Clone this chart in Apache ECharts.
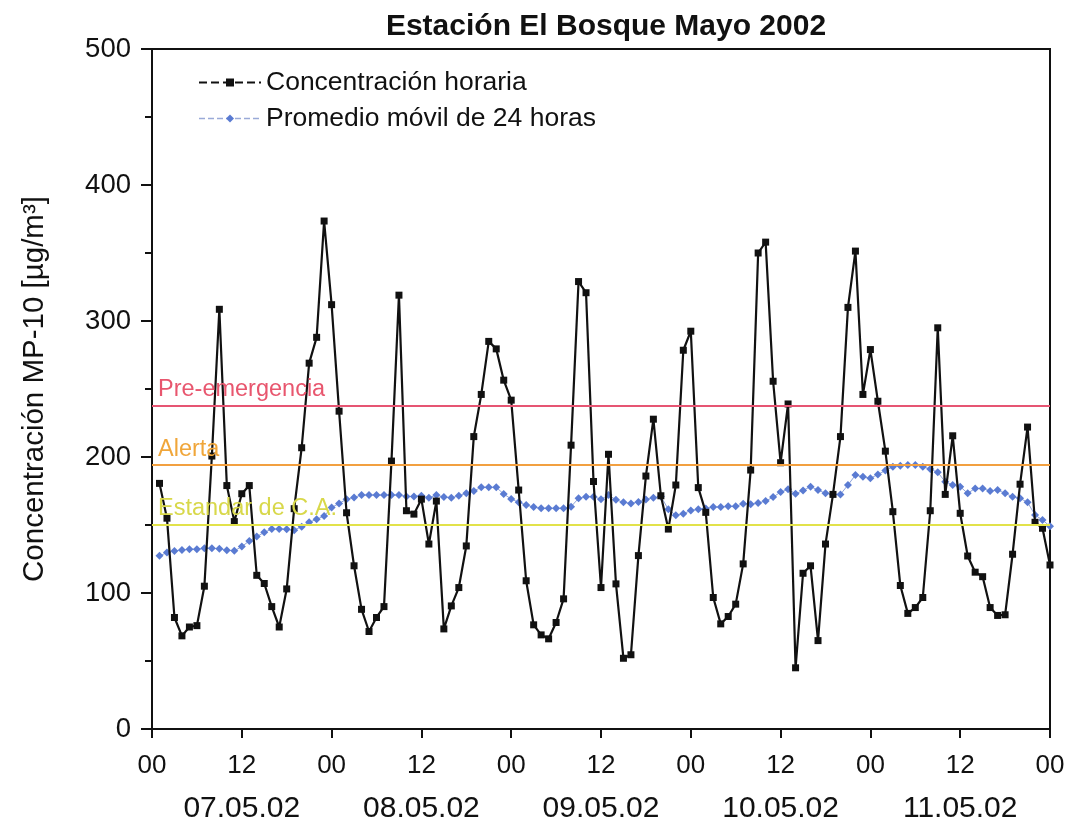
<!DOCTYPE html>
<html><head><meta charset="utf-8">
<script src="https://cdn.jsdelivr.net/npm/echarts@6/dist/echarts.min.js"></script>
<style>html,body{margin:0;padding:0;background:#fff}#c{width:1070px;height:824px}</style>
</head><body><div id="c"></div>
<script>
const titleText = 'Estación El Bosque Mayo 2002';
const yAxisName = 'Concentración MP-10 [µg/m³]';
const dayLabels = ['07.05.02','08.05.02','09.05.02','10.05.02','11.05.02'];
const hourLabels = ['00','12'];
const seriesNames = ['Concentración horaria','Promedio móvil de 24 horas'];
// hourly values, hour 1..120
const hourly = [
 180.6,155,82,68.5,75,76,105,200.7,308.6,179,152.5,173,
 179,113,107,90,75,103,162,206.8,269,288,373.5,312,
 233.7,159,120,88,71.7,82,90,197,319,160.5,158,169,
 136,167.6,73.6,90.5,104,134.6,215,246,285,279.5,256.5,241.8,
 175.7,109,76.6,69.2,66.3,78.3,95.7,208.7,329,320.8,182,104,
 202,106.7,52,54.6,127.5,186,227.8,171.5,147,179.4,278.5,292.5,
 177.5,159.3,96.7,77.3,82.7,91.8,121.4,190.4,350,358,255.7,195.8,
 239,45,114.5,120,65,136,172.5,215,310,351.4,246,279,
 241,204.3,159.8,105.5,85,89.3,96.7,160.5,295,172.5,215.6,158.6,
 127.2,115.3,112,89.3,83.5,84,128.5,180,222,152,147.6,120.6
];
const movingAvg = [
 127.3,129.7,130.9,131.7,132.2,132.2,132.9,132.9,132.5,131.5,131,134.1,
 138.3,141.5,144.6,147,147.1,146.8,146.2,148.8,152,154.2,156.6,162.8,
 165.9,168.9,170.3,172,172,172,172,172,172,171,171,171.5,
 170,172,170.5,170,171.5,173.3,175,177.7,177.7,177.7,172.8,169.1,
 166.7,164.7,163.2,162.3,162.3,162.3,162.3,163.5,169.6,170.8,170.8,169,
 172,168.5,166.7,165.9,167,168.8,170,171,161.5,157.1,158.3,160.7,
 161.5,162.2,163.2,163.2,163.7,163.7,165.7,165.2,166.2,167.6,170.5,174.2,
 176.2,173,175.4,178.2,175.7,173.3,172.5,172.5,179.4,186.7,185.5,184.3,
 187.2,190,192.8,193.6,194.1,194.1,192.8,191.1,188.7,181.8,179.4,178.2,
 173.3,176.9,176.9,175,175.7,173.3,170.8,169.6,166.7,157.3,153.7,149
];
const thresholdNames = ['Pre-emergencia','Alerta','Estandar de C.A.'];
const thresholdValues = [238, 194, 150];

const refLineColors = ['#e65573','#f2a040','#e2e24a'];
const refTextColors = ['#e8566e','#f0a63a','#d8d84a'];

const chart = echarts.init(document.getElementById('c'), null, {renderer:'canvas'});
const FONT = 'Liberation Sans, Arial, sans-serif';
const option = {
  backgroundColor:'#fff',
  animation:false,
  title:{text:titleText,left:601,top:7,textAlign:'center',
    textStyle:{fontFamily:FONT,fontSize:30,fontWeight:'bold',color:'#111'}},
  legend:{
    orient:'vertical',left:193,top:64,itemGap:9,itemWidth:62,itemHeight:10,
    textStyle:{fontFamily:FONT,fontSize:26.5,color:'#111'},
    data:[
      {name:seriesNames[0],lineStyle:{type:'dashed',dashOffset:0,width:2}},
      {name:seriesNames[1],lineStyle:{type:'dashed',width:1.5,color:'#9aaad8'}}
    ]
  },
  grid:{left:152,right:20,top:49,bottom:93,show:true,borderColor:'#111',borderWidth:2,backgroundColor:'transparent'},
  xAxis:{
    type:'value',min:0,max:120,interval:12,
    axisLine:{lineStyle:{color:'#111',width:2}},
    axisTick:{inside:false,length:9,lineStyle:{color:'#111',width:2}},
    splitLine:{show:false},
    axisLabel:{
      margin:22,showMinLabel:true,showMaxLabel:true,hideOverlap:false,
      formatter:function(v){
        if (v % 24 === 0) return '{t|' + hourLabels[0] + '}';
        const d = dayLabels[Math.round((v-12)/24)];
        return '{t|' + hourLabels[1] + '}\n{d|' + d + '}';
      },
      rich:{
        t:{fontFamily:FONT,fontSize:26,color:'#111',lineHeight:30},
        d:{fontFamily:FONT,fontSize:30,color:'#111',lineHeight:56}
      }
    }
  },
  yAxis:{
    type:'value',min:0,max:500,interval:100,
    name:yAxisName,nameLocation:'middle',nameGap:102,nameRotate:90,
    nameTextStyle:{fontFamily:FONT,fontSize:29.5,color:'#111'},
    axisLine:{show:true,lineStyle:{color:'#111',width:2}},
    axisTick:{show:true,inside:false,length:11,lineStyle:{color:'#111',width:2}},
    minorTick:{show:true,splitNumber:2,length:7,lineStyle:{color:'#111',width:2}},
    splitLine:{show:false},
    axisLabel:{margin:21,fontFamily:FONT,fontSize:27.5,color:'#111'}
  },
  series:[
    {
      name:'ref',type:'line',data:[],z:1,silent:true,
      markLine:{
        silent:true,symbol:['none','none'],animation:false,
        data:thresholdValues.map((v,i)=>({
          yAxis:v,
          lineStyle:{color:refLineColors[i],width:2,type:'solid'},
          label:{show:true,position:'insideStartTop',distance:[6,4],formatter:thresholdNames[i],
            fontFamily:FONT,fontSize:23.5,color:refTextColors[i]}
        }))
      }
    },
    {
      name:seriesNames[1],type:'line',z:3,
      data:movingAvg.map((v,i)=>[i+1,v]),
      symbol:'diamond',symbolSize:8,showAllSymbol:true,
      itemStyle:{color:'#5a7bd2'},
      lineStyle:{color:'#8fa3da',width:1}
    },
    {
      name:seriesNames[0],type:'line',z:4,
      data:hourly.map((v,i)=>[i+1,v]),
      symbol:'rect',symbolSize:7,showAllSymbol:true,
      itemStyle:{color:'#111'},
      lineStyle:{color:'#111',width:2.2}
    }
  ]
};
chart.setOption(option);
</script>
</body></html>
